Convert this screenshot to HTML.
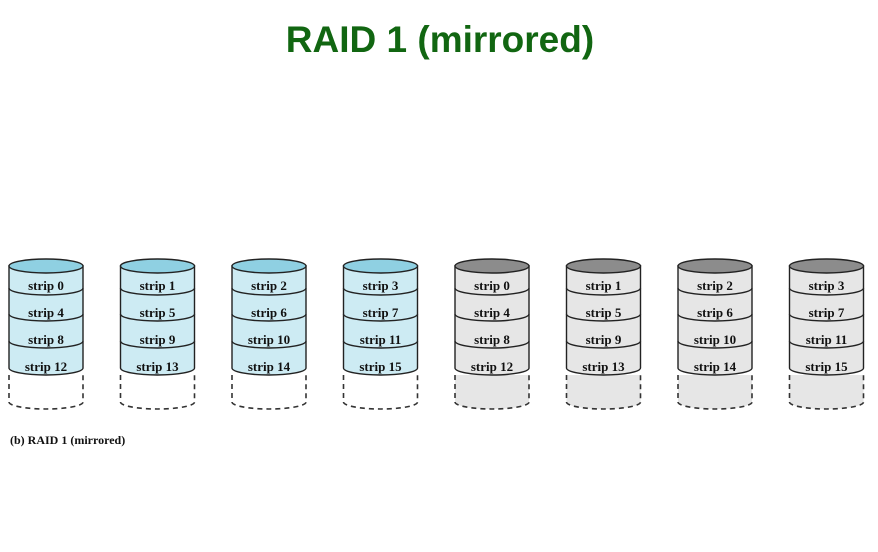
<!DOCTYPE html>
<html><head><style>
body{margin:0;width:878px;height:547px;background:#fff;overflow:hidden}
</style></head><body>
<svg width="878" height="547" xmlns="http://www.w3.org/2000/svg">
<text x="440" y="52" text-anchor="middle" font-family="Liberation Sans, sans-serif" font-weight="bold" font-size="37" fill="#116611">RAID 1 (mirrored)</text>
<g id="cyls" font-family="Liberation Serif, serif" font-weight="bold" font-size="13" text-anchor="middle" fill="#111"></g>
<text x="10" y="444" font-family="Liberation Serif, serif" font-weight="bold" font-size="12" fill="#111">(b) RAID 1 (mirrored)</text>
</svg>
<script>
(function(){
var g=document.getElementById('cyls'),s='';
for(var i=0;i<8;i++){
 var x=9+i*111.5,w=74,cx=x+w/2,r=w/2;
 var fill=i<4?'#cdebf3':'#e6e6e6', topc=i<4?'#8fd0e2':'#8c8c8c', bot=i<4?'#ffffff':'#e6e6e6';
 s+='<path d="M'+x+' 375 L'+x+' 402 A'+r+' 7 0 0 0 '+(x+w)+' 402 L'+(x+w)+' 375" fill="'+bot+'" stroke="#333" stroke-width="1.6" stroke-dasharray="5,4"/>';
 s+='<path d="M'+x+' 266 L'+x+' 368 A'+r+' 7 0 0 0 '+(x+w)+' 368 L'+(x+w)+' 266 Z" fill="'+fill+'" stroke="#222" stroke-width="1.4"/>';
 s+='<ellipse cx="'+cx+'" cy="266" rx="'+r+'" ry="7" fill="'+topc+'" stroke="#222" stroke-width="1.4"/>';
 [288,314,341].forEach(function(y){s+='<path d="M'+x+' '+y+' A'+r+' 7 0 0 0 '+(x+w)+' '+y+'" fill="none" stroke="#222" stroke-width="1.4"/>';});
 var n=i%4;[0,1,2,3].forEach(function(k){s+='<text x="'+cx+'" y="'+(290+k*27)+'">strip '+(n+4*k)+'</text>';});
}
g.innerHTML=s;
})();
</script>
</body></html>
